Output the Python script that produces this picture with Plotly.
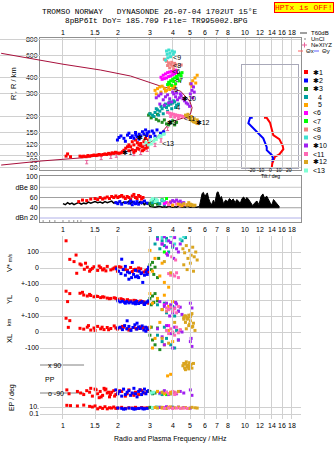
import math
import plotly.graph_objects as go

W, H = 335, 451


def pxx(p):
    return p / W


def pxy(p):
    return 1 - p / H


# ---------------- ticks ----------------
freq_ticks = [1, 1.5, 2, 3, 4, 5, 6, 7, 8, 10, 12, 14, 16, 18]
freq_tick_text = ['1', '1.5', '2', '3', '4', '5', '6', '7', '8', '10', '12', '14', '16', '18']
range_ticks = [80, 90, 100, 120, 150, 200, 300, 400, 600, 800]
db_ticks = [20, 40, 60, 80, 100]
db_tick_text = ['dBn 20', '40', '60', 'dBe 80', '100']
tilt_ticks = [-20, -10, 0, 10, 20]

cluster_names = ['✱1', '✱2', '✱3', '4', '5', '<6', '<7', '<8', '<9', '✱10', '<11', '✱12', '<13']
cluster_colors = ['#ff0000', '#0000ff', '#228b22', '#00a0a0', '#ffa500', '#ff00ff', '#00ff00',
                  '#f08080', '#40e0d0', '#a020f0', '#ff69b4', '#daa520', '#7fffd4']

# ---------------- upper panel: virtual range vs frequency ----------------
c1_f = [1.04, 1.06, 1.10, 1.24, 1.27, 1.30, 1.34, 1.37, 1.40, 1.44, 1.48, 1.52, 1.55, 1.58, 1.62, 1.66, 1.70, 1.74,
        1.78, 1.82, 1.86, 1.90, 1.94, 1.98, 2.03, 2.08, 2.12, 2.16, 2.21, 2.26, 2.30, 2.35, 2.40, 2.45, 2.50, 2.56,
        2.61, 2.67, 2.73, 2.78, 2.84, 2.90, 2.96, 2.30, 2.40, 2.50, 2.61, 2.73, 2.84, 2.95, 2.56, 2.67, 2.45, 2.78,
        2.90, 3.00]
c1_h = [98, 102, 97, 98, 97, 98, 97, 99, 98, 99, 100, 99, 100, 101, 100, 101, 102, 101, 103, 102, 104, 103, 105, 104,
        103, 104, 106, 109, 113, 116, 120, 116, 127, 120, 131, 113, 120, 123, 116, 127, 135, 120, 123, 108, 110, 108,
        111, 108, 113, 131, 125, 118, 105, 110, 115, 140]
c2_f = [1.99, 2.03, 2.08, 2.16, 2.26, 2.30, 2.35, 2.40, 2.45, 2.51, 2.56, 2.61, 2.67, 2.73, 2.78, 2.84, 2.90, 2.96,
        3.02, 3.09, 3.15, 3.28, 3.43, 3.57, 2.20, 2.50, 2.62, 2.88, 3.20]
c2_h = [131, 137, 141, 135, 143, 148, 137, 141, 135, 143, 139, 133, 141, 152, 146, 157, 148, 152, 139, 154, 148, 157,
        148, 152, 128, 150, 145, 142, 140]
c3_f = [2.95, 3.05, 3.15, 3.25, 3.35, 3.50, 3.70, 3.90, 4.10, 4.20, 3.00, 3.30, 3.60, 3.80, 4.00]
c3_h = [205, 195, 200, 190, 185, 180, 175, 178, 172, 180, 210, 208, 188, 172, 185]
c4_f = [3.00, 3.10, 3.20, 3.30, 3.40, 3.50, 3.60, 3.70, 3.80, 3.90, 4.00, 4.10, 4.20, 4.30, 3.15, 3.35, 3.55, 3.75,
        3.95, 4.15, 3.25, 3.45, 3.65, 3.85, 4.05]
c4_h = [210, 205, 215, 225, 220, 230, 240, 235, 245, 250, 255, 260, 245, 250, 200, 205, 210, 220, 230, 235, 230, 240,
        250, 260, 265]
c5_f = [3.20, 3.30, 3.40, 3.50, 3.60, 3.70, 3.80, 3.90, 4.00, 3.25, 3.45, 3.65, 3.85, 4.10, 5.00, 5.15, 5.30, 5.45,
        5.10, 5.35]
c5_h = [320, 330, 340, 345, 330, 320, 340, 350, 335, 300, 310, 315, 325, 345, 360, 380, 400, 420, 345, 365]
c6_f = [3.45, 3.55, 3.65, 3.75, 3.85, 3.95, 4.05, 4.15, 3.60, 3.80, 4.00, 4.20, 3.50, 3.70, 3.90, 4.10]
c6_h = [405, 420, 430, 440, 445, 450, 455, 460, 395, 410, 425, 440, 390, 400, 415, 430]
c7_f = [3.80, 3.90, 4.00, 4.10, 4.20, 4.30, 4.40, 4.50, 3.85, 4.05, 4.25, 4.45, 3.95, 4.15, 4.35, 3.75]
c7_h = [370, 380, 390, 400, 410, 420, 430, 440, 360, 375, 395, 415, 350, 360, 380, 355]
c8_f = [3.60, 3.70, 3.80, 3.90, 4.00, 4.10, 3.75, 3.95, 4.15, 3.85, 4.05, 4.45]
c8_h = [560, 540, 525, 510, 495, 520, 500, 530, 505, 480, 470, 505]
c9_f = [3.70, 3.81, 3.97, 3.73, 3.86, 4.03, 3.76, 3.89, 4.09, 3.65]
c9_h = [649, 661, 649, 612, 623, 612, 575, 586, 638, 552]
c10_f = [3.25, 3.35, 3.45, 3.55, 3.65, 3.75, 3.85, 3.95, 4.05, 4.15, 4.25, 4.35, 4.45, 4.55, 4.65, 4.75, 4.85, 5.00,
         5.10, 5.20, 3.40, 3.60, 3.80, 4.00, 4.20, 4.40, 5.05, 5.15, 4.95, 5.25]
c10_h = [280, 290, 300, 270, 285, 295, 275, 260, 300, 285, 270, 280, 290, 275, 265, 255, 250, 300, 320, 340, 250, 245,
         255, 310, 305, 300, 360, 280, 240, 310]
c11_f = [3.75, 3.85, 3.95, 4.05, 4.15, 4.25, 4.35, 4.45, 4.55, 4.70, 4.85, 3.90, 4.10, 4.30]
c11_h = [215, 212, 210, 208, 206, 204, 203, 202, 200, 198, 196, 200, 198, 195]
c12_f = [4.70, 4.80, 4.90, 5.00, 5.10, 5.20, 5.30, 5.40, 5.50, 4.85, 5.05, 5.25, 5.45]
c12_h = [205, 200, 195, 190, 185, 182, 180, 178, 176, 208, 200, 192, 188]
c13_f = [2.85, 2.95, 3.05, 3.15, 3.25, 3.35, 3.45, 3.55, 3.00, 3.20, 3.40, 3.60]
c13_h = [125, 120, 122, 128, 132, 138, 140, 145, 130, 135, 142, 146]

label_f = [2.12, 2.55, 3.70, 4.18, 4.06, 3.97, 4.11, 4.02, 4.02, 4.51, 4.60, 5.35, 3.50]
label_h = [103, 136, 176, 230, 318, 440, 374, 490, 570, 275, 192, 177, 121]

profile_f = [0.458, 0.758, 1.30, 1.99, 2.67, 3.15, 3.58, 3.89, 4.04, 4.58, 5.00, 5.11, 4.96, 4.41, 3.50, 2.35, 1.61,
             1.00, 0.458]
profile_h = [83.5, 89.8, 95.3, 103, 113, 131, 157, 182, 184, 195, 208, 234, 264, 316, 342, 414, 461, 512, 623]

nexyz_f = [1.35, 1.62, 1.83, 1.96, 2.45, 2.67, 2.90, 3.20, 3.45, 3.75]
nexyz_h = [88, 95, 97, 99, 102, 104, 110, 120, 130, 160]

# tilt inset
tiltx_deg = [-6.4, -3.5, 0, 1.8, 3.5, 10, 13.6, 14.3, 10, 5.4, 2.5, 1.8]
tiltx_h = [195, 195, 179, 159, 143, 133, 118, 111, 101, 97, 86, 79]
tilty_deg = [-18.5, -21.4, -23.2, -16, -7.2, -3.5, -3.5, 1.8, 3.5, 1.8]
tilty_h = [195, 195, 177, 157, 135, 115, 109, 100, 94, 89]

# ---------------- dB panel ----------------
noise_f = [1.00, 1.03, 1.06, 1.09, 1.12, 1.15, 1.18, 1.22, 1.26, 1.30, 1.34, 1.38, 1.42, 1.46, 1.50, 1.55, 1.60,
           1.65, 1.70, 1.75, 1.80, 1.85, 1.90, 1.95, 2.00, 2.05, 2.10, 2.15, 2.20, 2.25, 2.30, 2.35, 2.40, 2.45,
           2.50, 2.55, 2.60, 2.65, 2.70, 2.75, 2.80, 2.85, 2.90, 2.95, 3.00, 3.10, 3.20, 3.30, 3.40, 3.50, 3.60,
           3.70, 3.80, 3.90, 4.00, 4.10, 4.20, 4.30, 4.40, 4.50, 4.60, 4.70, 4.80, 4.90, 5.00, 5.20, 5.40, 5.60]
noise_db = [48, 46, 50, 47, 49, 46, 48, 50, 47, 49, 48, 51, 49, 50, 52, 50, 51, 49, 52, 50, 51, 53, 49, 51, 50, 52,
            48, 51, 49, 50, 53, 48, 52, 50, 47, 51, 49, 52, 48, 50, 45, 50, 47, 49, 43, 42, 41, 42, 43, 41, 42, 41,
            43, 42, 41, 42, 41, 43, 42, 41, 42, 41, 43, 42, 41, 42, 41, 42]
spike_f = [5.60, 5.70, 5.80, 5.90, 6.00, 6.10, 6.20, 6.30, 6.40, 6.50, 6.60, 6.70, 6.80, 6.90, 7.00, 7.10, 7.20,
           7.30, 7.40, 7.50, 7.60, 7.80, 8.00, 8.20, 8.40, 8.60, 8.80, 9.00, 9.20, 9.40, 9.60, 9.80, 10.0, 10.2,
           10.4, 10.6, 10.8, 11.0, 11.3, 11.6, 11.9, 12.2, 12.5, 12.8, 13.1, 13.4, 13.7, 14.0, 14.3, 14.6, 14.9,
           15.2, 15.4]
spike_db = [42, 55, 68, 70, 62, 66, 69, 58, 52, 45, 50, 55, 48, 60, 70, 71, 66, 58, 62, 52, 48, 55, 52, 58, 54, 57,
            50, 56, 53, 49, 58, 61, 55, 60, 57, 52, 48, 44, 50, 53, 46, 62, 67, 58, 63, 55, 50, 45, 56, 52, 48, 45, 42]
spike_floor = [40] * 53

db1_f = [1.22, 1.28, 1.35, 1.42, 1.50, 1.55, 1.60, 1.65, 1.70, 1.75, 1.80, 1.85, 1.90, 1.95, 2.00, 2.05, 2.10, 2.15,
         2.20, 2.25, 2.30, 2.35, 2.40, 2.45, 2.50, 2.55, 2.60, 2.65, 2.70, 2.75]
db1_v = [52, 55, 54, 57, 58, 56, 60, 57, 59, 61, 58, 62, 60, 63, 60, 62, 64, 61, 58, 62, 60, 56, 63, 66, 60, 58, 64,
         62, 57, 60]
db2_f = [1.95, 2.00, 2.05, 2.10, 2.20, 2.30, 2.35, 2.40, 2.45, 2.50, 2.55, 2.60, 2.70, 2.80, 2.90]
db2_v = [50, 48, 52, 47, 50, 49, 53, 46, 51, 48, 52, 47, 50, 53, 49]
db3_f = [3.0, 3.05, 3.1, 3.15, 3.2, 3.3]
db3_v = [48, 52, 45, 55, 50, 47]
db4_f = [3.1, 3.2, 3.3, 3.4, 3.5, 3.6]
db4_v = [50, 55, 52, 48, 54, 46]
db5_f = [4.0, 4.3, 4.5, 4.8, 5.0]
db5_v = [45, 47, 44, 46, 45]
db6_f = [3.6, 3.7, 3.8, 3.9]
db6_v = [48, 50, 47, 51]
db7_f = [3.5, 3.6, 3.7]
db7_v = [56, 52, 58]
db8_f = [3.8, 3.9]
db8_v = [49, 52]
db9_f = [3.5, 3.6]
db9_v = [55, 52]
db10_f = [3.9, 4.0, 4.1, 4.2, 4.3, 4.4, 4.5, 4.6]
db10_v = [50, 54, 52, 55, 51, 53, 49, 50]
db11_f = [3.8, 4.0, 4.2, 4.4, 4.6]
db11_v = [46, 45, 47, 44, 46]
db12_f = [4.4, 4.6, 4.8, 4.9, 5.0, 5.1, 5.2, 5.3]
db12_v = [46, 48, 45, 50, 47, 46, 44, 45]
db13_f = [3.05, 3.1, 3.2, 3.25, 3.3]
db13_v = [55, 58, 52, 57, 54]

# ---------------- lower panel ----------------
vs1_f = [1.04, 1.09, 1.18, 1.15, 1.26, 1.19, 1.31, 1.36, 1.42, 1.48, 1.55, 1.61, 1.68, 1.75, 1.83, 1.91, 1.99, 2.08,
         2.16, 2.26, 2.35, 2.45, 2.56, 2.67, 2.78, 2.90, 1.45, 1.58, 1.72, 1.88, 2.03, 2.20, 2.40, 2.60, 2.85, 1.40,
         1.65, 1.95, 2.50, 2.95, 1.24, 1.33]
vs1_v = [170, 54, 81, 40, 19, -33, -8, 5, -10, 8, -15, 2, -5, 10, -12, 0, -20, 5, -8, -15, 3, -10, -18, -5, -25, -12,
         -2, 12, -18, -6, 8, -10, -22, 0, -15, -20, -12, 6, -8, -28, 25, 30]
vs2_f = [1.97, 2.02, 2.08, 2.14, 2.20, 2.26, 2.32, 2.38, 2.44, 2.50, 2.56, 2.62, 2.68, 2.74, 2.80, 2.86, 2.92, 2.95,
         2.10, 2.30, 2.50, 2.70, 2.90, 2.40, 2.60, 2.20]
vs2_v = [-5, -20, -35, -10, -45, -25, -30, -60, -40, -15, -50, -20, -35, -90, -45, -25, -10, 5, 55, -70, -55, -30,
         -40, 35, -60, 10]
vs3_f = [3.0, 3.05, 3.1, 3.15, 3.2, 3.3, 3.35]
vs3_v = [20, -10, 35, -40, 5, -60, 60]
vs4_f = [3.2, 3.3, 3.4, 3.5, 3.6, 3.7, 3.8, 3.9, 4.0, 4.5, 4.7]
vs4_v = [150, 190, 120, 170, 140, 185, 100, 160, 130, 170, 190]
vs5_f = [3.0, 3.1, 3.2, 3.4, 3.5, 3.6, 3.8]
vs5_v = [110, -20, 60, -50, 30, -90, -120]
vs6_f = [3.5, 3.7]
vs6_v = [150, 90]
vs7_f = [3.6]
vs7_v = [100]
vs9_f = [3.5, 3.7, 3.9, 4.1, 4.4, 4.6]
vs9_v = [190, 170, 200, 150, 180, 195]
vs10_f = [3.3, 3.5, 3.6, 3.7, 3.8, 3.9, 4.0, 4.1, 4.2, 4.3, 4.4, 3.75, 4.05]
vs10_v = [180, 150, 195, 130, 170, 160, 140, 190, 120, 100, 150, 80, 60]
vs11_f = [3.8, 3.9, 4.0, 4.1, 4.2, 4.3, 3.95, 4.15]
vs11_v = [-35, -45, -40, -50, -30, -60, 70, 50]
vs12_f = [4.55, 4.65, 4.75, 4.85, 4.95, 5.05, 5.15, 5.25, 5.35, 5.45, 4.6, 4.8, 5.0, 5.2, 3.6, 3.9]
vs12_v = [120, 95, 140, 60, 110, 80, 130, 70, 100, 50, 20, -10, 30, -20, 40, -30]

yl1_f = [1.04, 1.06, 1.09, 1.24, 1.30, 1.36, 1.42, 1.48, 1.55, 1.61, 1.68, 1.75, 1.83, 1.91, 1.99, 2.08, 2.16, 2.26,
         2.35, 2.45, 2.56, 2.67, 2.78, 2.90, 1.40, 1.52, 1.65, 1.80, 1.95, 2.12, 2.30, 2.50, 2.72, 2.95, 1.28]
yl1_v = [55, -10, 40, 42, 31, 25, 28, 20, 22, 15, 18, 12, 10, 14, 5, 8, 0, 2, -5, -2, -10, -6, -12, -15, 35, 24, 20,
         8, 10, 3, -8, -4, -14, -20, 48]
yl2_f = [2.00, 2.06, 2.12, 2.18, 2.24, 2.30, 2.36, 2.42, 2.48, 2.54, 2.60, 2.66, 2.72, 2.78, 2.84, 2.90, 2.95, 2.20,
         2.50, 2.80]
yl2_v = [-5, -12, -8, -15, -10, -18, -12, -20, -14, -8, -22, -16, -10, -25, -18, -12, -5, -20, -24, -28]
yl3_f = [3.0, 3.05, 3.1, 3.15, 3.2, 3.3]
yl3_v = [10, -30, 25, -15, 40, -5]
yl4_f = [3.3, 3.5, 3.7, 3.9, 4.1, 4.3, 3.6, 4.0]
yl4_v = [-30, -60, -80, -50, -100, -70, -20, -40]
yl5_f = [3.0, 3.1, 3.3, 3.5, 3.6, 3.8, 4.0]
yl5_v = [40, -20, 10, -60, 30, -40, -10]
yl6_f = [3.6]
yl6_v = [-30]
yl8_f = [3.7, 3.9]
yl8_v = [-70, -40]
yl10_f = [3.4, 3.6, 3.7, 3.8, 3.9, 4.0, 4.1, 4.2, 4.3, 4.4, 4.5, 5.0, 5.1, 3.85, 4.15]
yl10_v = [-10, -40, -20, -60, -30, -80, -50, -25, -70, -45, -90, -20, -50, -100, -15]
yl11_f = [3.7, 3.8, 3.9, 4.0, 4.1, 4.2, 4.3]
yl11_v = [-50, -60, -45, -70, -55, -80, -40]
yl12_f = [4.6, 4.7, 4.8, 4.9, 5.0, 5.1, 4.65, 4.85, 5.05]
yl12_v = [-110, -100, -120, -95, -105, -85, -100, -115, -90]

xl1_f = [1.04, 1.09, 1.07, 1.24, 1.30, 1.36, 1.42, 1.48, 1.55, 1.61, 1.68, 1.75, 1.83, 1.91, 1.99, 2.08, 2.16, 2.26,
         2.35, 2.45, 2.56, 2.67, 2.78, 2.90, 1.38, 1.50, 1.64, 1.78, 1.95, 2.12, 2.30, 2.52, 2.74, 2.95]
xl1_v = [86, 71, 29, 23, 18, 30, 12, 25, 35, 20, 15, 28, 22, 38, 18, 25, 30, 20, 15, 28, 22, 32, 18, 25, 40, 10, 30,
         14, 25, 35, 12, 20, 28, 15]
xl2_f = [2.00, 2.06, 2.12, 2.18, 2.24, 2.30, 2.36, 2.42, 2.48, 2.54, 2.60, 2.66, 2.72, 2.78, 2.84, 2.90, 2.95, 2.25,
         2.55, 2.85]
xl2_v = [25, 30, 15, 40, 20, 35, 10, 28, 45, 18, 32, 22, 38, 12, 30, 20, 25, 70, 55, 5]
xl3_f = [3.0, 3.05, 3.1, 3.2, 3.3, 3.4]
xl3_v = [-20, 30, -50, -80, 25, -110]
xl4_f = [3.3, 3.5, 3.7, 3.9, 4.1, 4.3, 3.6, 4.0, 4.2]
xl4_v = [-20, -60, -40, -80, -100, -50, 30, -10, 10]
xl5_f = [3.0, 3.2, 3.4, 3.6, 3.8, 4.0, 3.1]
xl5_v = [30, -40, 60, -80, 10, -60, -100]
xl6_f = [3.8]
xl6_v = [40]
xl10_f = [3.3, 3.5, 3.7, 3.9, 4.1, 4.3, 4.5, 5.0, 5.1, 3.6, 4.0, 4.4, 5.05]
xl10_v = [20, -30, 40, -10, 30, -50, 0, -60, -90, -80, -100, 10, -40]
xl11_f = [3.7, 3.8, 3.9, 4.0, 4.1, 4.2, 4.3, 4.4]
xl11_v = [10, -10, 20, 0, -20, 30, -5, 15]
xl12_f = [4.6, 4.7, 4.8, 4.9, 5.0, 5.1, 5.2, 5.3, 4.75, 4.95, 5.15, 3.5, 3.8, 4.1]
xl12_v = [80, 60, 90, 40, 70, 30, 55, 10, 20, 50, 35, -40, -70, 60]

pp1_f = [1.05, 1.08, 1.2, 1.25, 1.3, 1.35, 1.4, 1.45, 1.5, 1.55, 1.6, 1.65, 1.7, 1.75, 1.8, 1.85, 1.9, 1.95, 2.0,
         2.1, 2.2, 2.3, 2.4, 2.5, 2.6, 2.7, 2.8, 2.9, 1.42, 1.52, 1.62, 1.72, 1.82, 1.92, 2.05, 2.25, 2.45, 2.65,
         1.58, 1.68, 1.78]
pp1_v = [-70, -95, -80, -90, -100, -75, -85, -110, -65, -95, -80, -105, -70, -90, -115, -85, -75, -100, -90, -80,
         -110, -70, -95, -85, -100, -75, -90, -80, -60, -70, -115, -65, -100, -110, -75, -95, -105, -70, -120, -60,
         -85]
pp2_f = [1.95, 2.0, 2.05, 2.1, 2.15, 2.2, 2.25, 2.3, 2.35, 2.4, 2.45, 2.5, 2.55, 2.6, 2.65, 2.7, 2.75, 2.8, 2.85,
         2.9, 2.95]
pp2_v = [-70, -95, -80, -110, -65, -100, -85, -75, -105, -90, -60, -95, -115, -80, -70, -100, -85, -65, -95, -80,
         -75]
pp3_f = [3.0, 3.1, 3.2]
pp3_v = [-80, -95, -90]
pp4_f = [3.1, 3.3, 3.5, 3.7, 3.9]
pp4_v = [-90, -80, -100, -85, -95]
pp5_f = [3.3, 3.6, 3.9, 3.75, 3.9]
pp5_v = [-80, -95, -85, 20, 30]
pp6_f = [3.6, 3.8]
pp6_v = [-85, -95]
pp7_f = [3.5, 3.6, 3.7]
pp7_v = [-90, -80, -100]
pp8_f = [3.9, 4.1]
pp8_v = [-90, -85]
pp9_f = [3.4, 3.6]
pp9_v = [-95, -80]
pp10_f = [3.4, 3.6, 3.8, 4.0, 4.2, 4.4, 4.6, 5.0, 5.1]
pp10_v = [-90, -75, -100, -85, -95, -80, -90, -70, -105]
pp11_f = [3.7, 3.8, 3.9, 4.0, 4.1, 4.2]
pp11_v = [-85, -95, -90, -80, -100, -90]
pp12_f = [4.55, 4.6, 4.65, 4.7, 4.75, 4.8, 4.85, 4.9, 4.95, 5.0, 5.05, 5.1, 4.7, 4.9, 5.2, 3.5, 3.9, 4.3]
pp12_v = [85, 100, 70, 95, 110, 80, 90, 75, 105, 85, 95, 70, 60, 65, 100, -85, -95, -80]
pp13_f = [3.05, 3.15]
pp13_v = [-90, -85]

ep1_f = [1.05, 1.1, 1.2, 1.3, 1.4, 1.5, 1.6, 1.7, 1.8, 1.9, 2.0, 2.1, 2.2, 2.3, 2.4, 2.5, 2.6, 2.7, 2.8, 2.9, 1.55,
         1.65, 1.75, 1.85, 1.95, 1.45]
ep1_v = [30, 25, 20, 35, 15, 20, 8, 12, 6, 10, 5, 8, 4, 6, 5, 8, 4, 7, 5, 6, 3, 4, 3, 5, 4, 10]
ep2_f = [2.0, 2.1, 2.2, 2.3, 2.4, 2.5, 2.6, 2.7, 2.8, 2.9, 2.15, 2.45, 2.75]
ep2_v = [5, 4, 3, 5, 4, 3, 4, 5, 3, 4, 2.5, 2.5, 3]
ep3_f = [3.0, 3.1, 3.25]
ep3_v = [8, 6, 9]
ep4_f = [3.1, 3.4, 3.7, 4.0]
ep4_v = [6, 8, 5, 9]
ep5_f = [3.2, 3.5, 3.8]
ep5_v = [7, 5, 9]
ep6_f = [3.6, 3.9]
ep6_v = [6, 8]
ep7_f = [3.5, 3.7]
ep7_v = [7, 5]
ep9_f = [3.3, 3.6]
ep9_v = [8, 6]
ep10_f = [3.4, 3.7, 4.0, 4.3, 4.6, 5.0]
ep10_v = [8, 12, 6, 9, 7, 5]
ep11_f = [3.6, 3.8, 4.0, 4.2, 4.4, 4.6, 4.8]
ep11_v = [4, 5, 4, 5, 4, 5, 4]
ep12_f = [3.3, 3.5, 3.7, 3.9, 4.1, 4.3, 4.5, 4.7, 4.9, 5.1, 5.3, 5.45]
ep12_v = [5, 8, 4, 10, 6, 9, 5, 7, 4, 8, 6, 5]
ep13_f = [3.1]
ep13_v = [7]

# ---------------- figure ----------------
GRID = '#d0d0d0'
FRAME = '#909090'
TF = dict(family='Liberation Sans', size=7, color='black')

fig = go.Figure()


def pts(fx, fy, color, xa, ya, size=3, sym='square'):
    fig.add_trace(go.Scatter(x=fx, y=fy, mode='markers', xaxis=xa, yaxis=ya,
                             marker=dict(symbol=sym, size=size, color=color, line=dict(width=0)),
                             showlegend=False, hoverinfo='skip'))


# upper panel: profile line underneath
fig.add_trace(go.Scatter(x=profile_f, y=profile_h, mode='lines', xaxis='x5', yaxis='y',
                         line=dict(color='#a8103c', width=1), showlegend=False, hoverinfo='skip'))
fig.add_trace(go.Scatter(x=nexyz_f, y=nexyz_h, mode='markers', xaxis='x5', yaxis='y',
                         marker=dict(size=1, color='#e8609a'),
                         error_y=dict(type='percent', value=3, width=1.5, thickness=1, color='#e8609a'),
                         showlegend=False, hoverinfo='skip'))
upper = [(c1_f, c1_h), (c2_f, c2_h), (c3_f, c3_h), (c4_f, c4_h), (c5_f, c5_h), (c6_f, c6_h), (c7_f, c7_h),
         (c8_f, c8_h), (c9_f, c9_h), (c10_f, c10_h), (c11_f, c11_h), (c12_f, c12_h), (c13_f, c13_h)]
for (fx, fy), col in zip(upper, cluster_colors):
    pts(fx, fy, col, 'x5', 'y')
fig.add_trace(go.Scatter(x=label_f, y=label_h, mode='text', text=cluster_names, textposition='middle right',
                         textfont=dict(family='Liberation Sans', size=7, color='black'),
                         xaxis='x5', yaxis='y', showlegend=False, hoverinfo='skip'))

# tilt inset
fig.add_trace(go.Scatter(x=tiltx_deg, y=tiltx_h, mode='lines', xaxis='x4', yaxis='y9',
                         line=dict(color='#ff0000', width=2), showlegend=False, hoverinfo='skip'))
fig.add_trace(go.Scatter(x=tilty_deg, y=tilty_h, mode='lines', xaxis='x4', yaxis='y9',
                         line=dict(color='#0000ff', width=2), showlegend=False, hoverinfo='skip'))

# dB panel
fig.add_trace(go.Scatter(x=noise_f, y=noise_db, mode='lines', xaxis='x2', yaxis='y2',
                         line=dict(color='black', width=1.5), showlegend=False, hoverinfo='skip'))
fig.add_trace(go.Scatter(x=spike_f, y=spike_floor, mode='lines', xaxis='x2', yaxis='y2',
                         line=dict(color='black', width=1), showlegend=False, hoverinfo='skip'))
fig.add_trace(go.Scatter(x=spike_f, y=spike_db, mode='lines', xaxis='x2', yaxis='y2', fill='tonexty',
                         fillcolor='black', line=dict(color='black', width=1), showlegend=False, hoverinfo='skip'))
dbsets = [(db1_f, db1_v, 0), (db2_f, db2_v, 1), (db3_f, db3_v, 2), (db4_f, db4_v, 3), (db13_f, db13_v, 12),
          (db7_f, db7_v, 6), (db9_f, db9_v, 8), (db6_f, db6_v, 5), (db8_f, db8_v, 7), (db10_f, db10_v, 9),
          (db11_f, db11_v, 10), (db5_f, db5_v, 4), (db12_f, db12_v, 11)]
for fx, fy, ci in dbsets:
    pts(fx, fy, cluster_colors[ci], 'x2', 'y2')

# lower panel
vsets = [(vs1_f, vs1_v, 0), (vs2_f, vs2_v, 1), (vs3_f, vs3_v, 2), (vs4_f, vs4_v, 3), (vs5_f, vs5_v, 4),
         (vs6_f, vs6_v, 5), (vs7_f, vs7_v, 6), (vs9_f, vs9_v, 8), (vs10_f, vs10_v, 9), (vs11_f, vs11_v, 10),
         (vs12_f, vs12_v, 11)]
for fx, fy, ci in vsets:
    pts(fx, fy, cluster_colors[ci], 'x3', 'y4')
ysets = [(yl1_f, yl1_v, 0), (yl2_f, yl2_v, 1), (yl3_f, yl3_v, 2), (yl4_f, yl4_v, 3), (yl5_f, yl5_v, 4),
         (yl6_f, yl6_v, 5), (yl8_f, yl8_v, 7), (yl10_f, yl10_v, 9), (yl11_f, yl11_v, 10), (yl12_f, yl12_v, 11)]
for fx, fy, ci in ysets:
    pts(fx, fy, cluster_colors[ci], 'x3', 'y5')
xsets = [(xl1_f, xl1_v, 0), (xl2_f, xl2_v, 1), (xl3_f, xl3_v, 2), (xl4_f, xl4_v, 3), (xl5_f, xl5_v, 4),
         (xl6_f, xl6_v, 5), (xl10_f, xl10_v, 9), (xl11_f, xl11_v, 10), (xl12_f, xl12_v, 11)]
for fx, fy, ci in xsets:
    pts(fx, fy, cluster_colors[ci], 'x3', 'y6')
psets = [(pp1_f, pp1_v, 0), (pp2_f, pp2_v, 1), (pp3_f, pp3_v, 2), (pp4_f, pp4_v, 3), (pp13_f, pp13_v, 12),
         (pp7_f, pp7_v, 6), (pp9_f, pp9_v, 8), (pp6_f, pp6_v, 5), (pp8_f, pp8_v, 7), (pp10_f, pp10_v, 9),
         (pp11_f, pp11_v, 10), (pp5_f, pp5_v, 4), (pp12_f, pp12_v, 11)]
for fx, fy, ci in psets:
    pts(fx, fy, cluster_colors[ci], 'x3', 'y7')
esets = [(ep1_f, ep1_v, 0), (ep2_f, ep2_v, 1), (ep3_f, ep3_v, 2), (ep4_f, ep4_v, 3), (ep13_f, ep13_v, 12),
         (ep7_f, ep7_v, 6), (ep9_f, ep9_v, 8), (ep6_f, ep6_v, 5), (ep10_f, ep10_v, 9), (ep5_f, ep5_v, 4),
         (ep12_f, ep12_v, 11), (ep11_f, ep11_v, 10)]
for fx, fy, ci in esets:
    pts(fx, fy, cluster_colors[ci], 'x3', 'y8')

XR = [-0.126, 1.306]
common_x = dict(type='log', range=XR, domain=[pxx(40), pxx(301)], tickvals=freq_ticks, showticklabels=False,
                ticks='', zeroline=False, automargin=False)
low_dom = [pxy(419), pxy(236)]
band = dict(domain=low_dom, anchor='x3', showline=False, zeroline=False, ticks='', tickfont=TF,
            showgrid=True, gridcolor=GRID, automargin=False)

fig.update_layout(
    width=W, height=H, margin=dict(l=0, r=0, t=0, b=0, autoexpand=False),
    paper_bgcolor='white', plot_bgcolor='rgba(0,0,0,0)', showlegend=False,
    xaxis=dict(common_x, anchor='y', showgrid=True, gridcolor=GRID, showline=True, mirror=True,
               linecolor=FRAME),
    yaxis=dict(domain=[pxy(170), pxy(38)], type='log', range=[1.883, 2.914], anchor='x', tickvals=range_ticks,
               ticktext=[str(v) for v in range_ticks], tickfont=TF, ticks='', showgrid=True, gridcolor=GRID,
               showline=True, mirror=True, linecolor=FRAME, zeroline=False, automargin=False),
    xaxis5=dict(type='log', range=[-0.3455, 1.306], domain=[0, pxx(301)], anchor='y', visible=False),
    xaxis2=dict(common_x, anchor='y2', showgrid=False, showline=True, mirror=True,
                linecolor=FRAME),
    yaxis2=dict(domain=[pxy(222), pxy(176)], range=[12.2, 102], anchor='x2', tickvals=db_ticks,
                ticktext=db_tick_text, tickfont=TF, ticks='', showgrid=False, showline=True, mirror=True,
                linecolor=FRAME, zeroline=False, automargin=False),
    xaxis3=dict(common_x, anchor='y3', showgrid=True, gridcolor=GRID, showline=True, mirror=True,
                linecolor=FRAME),
    yaxis3=dict(domain=low_dom, range=[0, 1], anchor='x3', showticklabels=False, showgrid=False, showline=True,
                mirror=True, linecolor=FRAME, zeroline=False, ticks=''),
    yaxis4=dict(band, range=[-943.75, 200], tickvals=[100, 0, -100], ticktext=['100', '0', '+-100']),
    yaxis5=dict(band, range=[-743.75, 400], tickvals=[0, -100], ticktext=['0', '+-100']),
    yaxis6=dict(band, range=[-543.75, 600], tickvals=[0, -100], ticktext=['0', '-100']),
    yaxis7=dict(band, range=[-257.14, 919.29], showgrid=False, showticklabels=False),
    yaxis8=dict(band, type='log', range=[-2.4286, 49.857], tickvals=[10, 0.1], ticktext=['10.', '0.1']),
    xaxis4=dict(domain=[pxx(242), pxx(298)], range=[-30, 30], anchor='y9', tickvals=tilt_ticks,
                showticklabels=False, ticks='', showgrid=False,
                showline=True, mirror=True, linecolor='#a8a8b8', zeroline=False, automargin=False),
    yaxis9=dict(domain=[pxy(168), pxy(65)], type='log', range=[1.898, 2.703], anchor='x4',
                showticklabels=False, showgrid=False, showline=True, mirror=True, linecolor='#a8a8b8',
                zeroline=False, ticks=''),
)

shapes = []
# dB panel horizontal lines
for lvl, col in [(40, '#a0a0a0'), (60, '#a0a0a0'), (80, '#c8c8c8'), (20, '#b0b0e8')]:
    shapes.append(dict(type='line', xref='x2 domain', x0=0, x1=1, yref='y2', y0=lvl, y1=lvl,
                       line=dict(color=col, width=1), layer='below'))
# dB panel small bottom ticks
for fv in freq_ticks:
    shapes.append(dict(type='line', xref='x2', x0=math.log10(fv), x1=math.log10(fv), yref='y2', y0=12.2, y1=16,
                       line=dict(color=FRAME, width=1)))
# polarisation reference lines
for lvl in [90, -90]:
    shapes.append(dict(type='line', xref='x3', x0=math.log10(1.0), x1=math.log10(20.2), yref='y7', y0=lvl,
                       y1=lvl, line=dict(color='#808080', width=1), layer='below'))


def P(x, y):
    return pxx(x), pxy(y)


ann = []


def text(x, y, s, size=8, anchor='left', angle=0, family='Liberation Sans', color='black', yanchor='middle'):
    ax, ay = P(x, y)
    ann.append(dict(xref='paper', yref='paper', x=ax, y=ay, text=s, showarrow=False, xanchor=anchor,
                    yanchor=yanchor, textangle=angle, font=dict(family=family, size=size, color=color)))


# frequency tick labels (top of upper panel, below dB panel, below lower panel)
for xa, ypix in [('x', 33), ('x2', 229), ('x3', 425)]:
    for fv, tt in zip(freq_ticks, freq_tick_text):
        ann.append(dict(xref=xa, yref='paper', x=math.log10(fv), y=pxy(ypix), text=tt, showarrow=False,
                        xanchor='center', yanchor='middle', font=TF))
# tilt inset tick labels
for tv in tilt_ticks:
    ann.append(dict(xref='x4', yref='paper', x=tv, y=pxy(170.3), text=str(tv), showarrow=False,
                    xanchor='center', yanchor='middle', font=dict(family='Liberation Sans', size=5, color='black')))

# titles
text(150, 12, 'TROMSO NORWAY   DYNASONDE 26-07-04 1702UT 15°E', size=7.8, anchor='center',
     family='Liberation Mono')
text(156, 21, '8pBP6It DoY= 185.709 File= TR995002.BPG', size=7.8, anchor='center', family='Liberation Mono')
ax, ay = P(334, 2)
ann.append(dict(xref='paper', yref='paper', x=ax, y=ay, text='HPTx is OFF!', showarrow=False, xanchor='right',
                yanchor='top', bgcolor='#ffff00', bordercolor='#ff0000', borderwidth=1, borderpad=0,
                font=dict(family='Liberation Mono', size=8, color='#ff0000')))
# axis titles
text(13, 84, "R', R / km", size=7.5, angle=-90, anchor='center')
text(9, 263, "V* <span style='font-size:5px'>m/s</span>", size=7.5, angle=-90, anchor='center')
text(9, 300, 'YL', size=7.5, angle=-90, anchor='center')
text(9, 322, 'km', size=5.5, angle=-90, anchor='center')
text(9, 339, 'XL', size=7.5, angle=-90, anchor='center')
text(12, 398, 'EP / deg', size=7, angle=-90, anchor='center')
text(43, 379, 'PP', size=7)
text(46, 365, 'x 90', size=7)
text(46, 393, 'o -90', size=7)
text(170, 439, 'Radio and Plasma Frequency / MHz', size=7, anchor='center')
text(270, 176, 'Tilt / deg', size=5, anchor='center')

# legend (top block)
shapes.append(dict(type='line', xref='paper', yref='paper', x0=pxx(300), x1=pxx(307), y0=pxy(33), y1=pxy(33),
                   line=dict(color='#a0a0a0', width=2)))
text(309, 33, 'T60dB', size=6)
shapes.append(dict(type='rect', xref='paper', yref='paper', x0=pxx(304.5), x1=pxx(305.5), y0=pxy(39.5),
                   y1=pxy(38.5), line=dict(width=0), fillcolor='black'))
text(309, 39, 'UnCl', size=6)
shapes.append(dict(type='line', xref='paper', yref='paper', x0=pxx(302), x1=pxx(307), y0=pxy(45), y1=pxy(45),
                   line=dict(color='#e8609a', width=1)))
shapes.append(dict(type='line', xref='paper', yref='paper', x0=pxx(304.5), x1=pxx(304.5), y0=pxy(42.5),
                   y1=pxy(47.5), line=dict(color='#e8609a', width=1)))
text(309, 45, 'NeXIYZ', size=6)
shapes.append(dict(type='line', xref='paper', yref='paper', x0=pxx(298), x1=pxx(303), y0=pxy(51), y1=pxy(51),
                   line=dict(color='#ff6060', width=1)))
text(303.5, 51, 'Θx', size=6)
shapes.append(dict(type='line', xref='paper', yref='paper', x0=pxx(314), x1=pxx(319), y0=pxy(51), y1=pxy(51),
                   line=dict(color='#6060ff', width=1)))
text(319.5, 51, 'Θy', size=6)
# legend (clusters)
leg_y = [72, 80.5, 89, 97, 105, 113, 121, 129.5, 137.5, 145.5, 154, 162, 170.5]
for nm, col, yy in zip(cluster_names, cluster_colors, leg_y):
    shapes.append(dict(type='rect', xref='paper', yref='paper', x0=pxx(304), x1=pxx(308), y0=pxy(yy + 2),
                       y1=pxy(yy - 2), line=dict(width=0), fillcolor=col))
    if nm in ('4', '5'):
        text(316, yy, nm, size=7)
    else:
        text(311, yy, nm, size=7)

fig.update_layout(shapes=shapes, annotations=ann)
fig.write_html('out.html')
